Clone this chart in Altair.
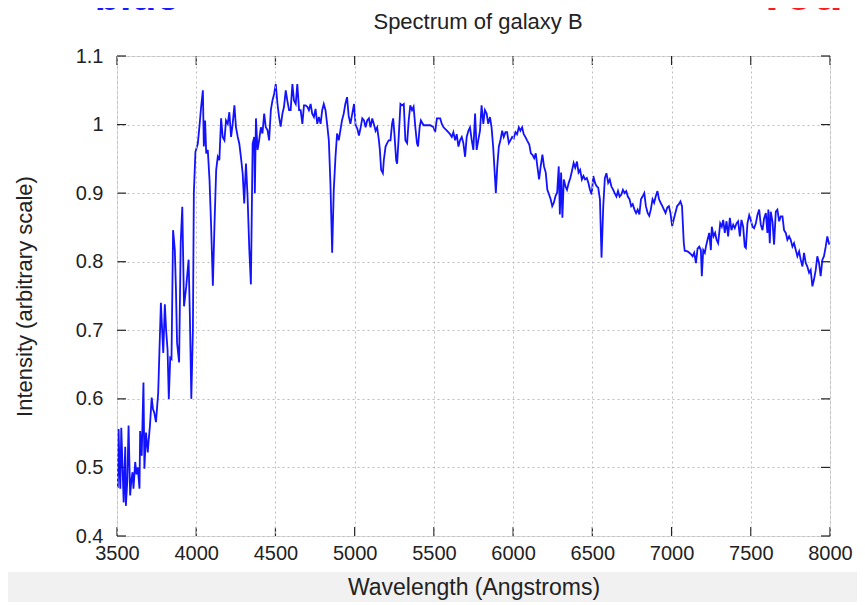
import altair as alt
import pandas as pd

# Spectrum of galaxy B: wavelength (Angstroms) and intensity (arbitrary scale)
wavelength = [
    3505, 3510, 3516, 3521, 3527, 3535, 3542, 3552, 3556, 3565, 3573, 3583, 3590, 3598, 3604,
    3615, 3623, 3631, 3642, 3646, 3656, 3667, 3673, 3683, 3694, 3700, 3708, 3719, 3727, 3735,
    3746, 3760, 3777, 3785, 3792, 3802, 3810, 3819, 3827, 3836, 3844, 3854, 3865, 3872, 3879,
    3892, 3902, 3912, 3923, 3937, 3952, 3960, 3969, 3979, 3985, 3995, 4010, 4021, 4031, 4042,
    4048, 4056, 4063, 4073, 4084, 4094, 4105, 4115, 4126, 4136, 4146, 4157, 4167, 4178, 4188,
    4199, 4209, 4220, 4230, 4241, 4251, 4262, 4272, 4282, 4293, 4303, 4308, 4314, 4324, 4335,
    4345, 4356, 4366, 4370, 4377, 4387, 4397, 4408, 4418, 4429, 4439, 4450, 4460, 4471, 4481,
    4492, 4502, 4513, 4523, 4533, 4544, 4554, 4565, 4575, 4586, 4596, 4607, 4617, 4628, 4638,
    4649, 4659, 4670, 4680, 4690, 4701, 4711, 4722, 4732, 4743, 4753, 4764, 4774, 4785, 4795,
    4805, 4816, 4826, 4837, 4847, 4858, 4868, 4879, 4889, 4900, 4910, 4920, 4931, 4941, 4952,
    4962, 4973, 4985, 4996, 5006, 5017, 5027, 5038, 5048, 5059, 5069, 5079, 5090, 5100, 5111,
    5121, 5132, 5142, 5153, 5159, 5167, 5178, 5184, 5195, 5205, 5215, 5226, 5236, 5243, 5251,
    5262, 5268, 5278, 5289, 5299, 5310, 5320, 5331, 5341, 5351, 5362, 5372, 5383, 5393, 5400,
    5410, 5418, 5435, 5456, 5477, 5498, 5508, 5519, 5540, 5550, 5561, 5582, 5602, 5613, 5623,
    5634, 5644, 5655, 5665, 5676, 5686, 5697, 5707, 5718, 5728, 5739, 5749, 5760, 5770, 5780,
    5791, 5801, 5812, 5822, 5833, 5843, 5854, 5864, 5874, 5885, 5891, 5900, 5910, 5920, 5931,
    5941, 5952, 5962, 5973, 5983, 5994, 6004, 6015, 6025, 6036, 6046, 6057, 6067, 6077, 6088,
    6102, 6112, 6122, 6133, 6143, 6153, 6164, 6174, 6185, 6195, 6206, 6216, 6227, 6237, 6247,
    6257, 6268, 6278, 6288, 6295, 6303, 6311, 6320, 6330, 6340, 6351, 6361, 6371, 6382, 6392,
    6403, 6413, 6423, 6434, 6444, 6454, 6465, 6475, 6485, 6496, 6506, 6517, 6527, 6537, 6548,
    6558, 6569, 6579, 6589, 6600, 6610, 6620, 6631, 6641, 6652, 6662, 6672, 6683, 6693, 6704,
    6714, 6724, 6735, 6745, 6755, 6766, 6776, 6786, 6797, 6807, 6817, 6828, 6838, 6849, 6859,
    6869, 6880, 6890, 6900, 6911, 6921, 6931, 6942, 6952, 6962, 6973, 6983, 6993, 7004, 7014,
    7024, 7035, 7046, 7056, 7066, 7077, 7083, 7101, 7112, 7122, 7133, 7143, 7154, 7164, 7175,
    7185, 7191, 7200, 7210, 7217, 7227, 7238, 7248, 7254, 7265, 7275, 7284, 7294, 7301, 7307,
    7317, 7326, 7336, 7347, 7357, 7368, 7378, 7389, 7399, 7410, 7420, 7431, 7441, 7452, 7462,
    7469, 7479, 7490, 7500, 7511, 7521, 7532, 7542, 7553, 7563, 7574, 7584, 7595, 7605, 7611,
    7620, 7626, 7637, 7647, 7658, 7668, 7679, 7689, 7700, 7710, 7721, 7731, 7742, 7752, 7763,
    7773, 7784, 7794, 7805, 7815, 7826, 7836, 7847, 7857, 7868, 7878, 7889, 7899, 7910, 7920,
    7931, 7941, 7952, 7962, 7973, 7983, 7995,
]
intensity = [
    0.470, 0.556, 0.500, 0.469, 0.558, 0.500, 0.449, 0.530, 0.444, 0.480, 0.561, 0.459, 0.480, 0.493, 0.469,
    0.508, 0.490, 0.500, 0.469, 0.553, 0.517, 0.624, 0.498, 0.551, 0.522, 0.540, 0.561, 0.602, 0.585, 0.580,
    0.566, 0.609, 0.740, 0.700, 0.667, 0.738, 0.700, 0.672, 0.600, 0.660, 0.658, 0.846, 0.817, 0.760, 0.682,
    0.653, 0.827, 0.880, 0.735, 0.764, 0.803, 0.720, 0.600, 0.700, 0.900, 0.960, 0.972, 0.999, 1.026, 1.050,
    0.968, 1.006, 0.958, 0.963, 0.919, 0.852, 0.765, 0.852, 0.934, 0.953, 0.948, 1.009, 0.982, 0.977, 1.006,
    1.001, 1.018, 0.982, 1.001, 1.028, 0.996, 0.982, 0.972, 0.953, 0.929, 0.885, 0.914, 0.943, 0.895, 0.818,
    0.767, 0.972, 0.982, 0.900, 1.009, 0.963, 0.977, 0.996, 0.987, 1.016, 0.996, 0.992, 0.977, 1.021, 1.035,
    1.045, 1.059, 1.030, 1.011, 0.997, 1.016, 1.026, 1.050, 1.035, 1.021, 1.021, 1.059, 1.035, 1.030, 1.059,
    1.021, 1.021, 1.001, 1.028, 1.028, 1.026, 1.021, 1.030, 1.016, 1.011, 1.023, 1.001, 1.011, 1.001, 1.021,
    1.030, 1.021, 1.001, 0.977, 0.914, 0.813, 0.904, 0.953, 0.987, 0.977, 0.992, 1.006, 1.016, 1.030, 1.040,
    1.013, 1.001, 1.016, 1.030, 0.999, 0.994, 0.984, 0.996, 1.009, 1.006, 0.996, 1.006, 1.009, 0.996, 1.009,
    1.001, 0.991, 0.996, 0.977, 0.963, 0.934, 0.929, 0.948, 0.968, 0.973, 0.977, 0.977, 1.001, 1.009, 0.986,
    0.948, 0.943, 0.982, 1.030, 1.028, 1.030, 0.977, 0.973, 1.006, 1.028, 1.021, 1.026, 0.996, 0.973, 0.968,
    0.996, 1.006, 0.999, 0.999, 0.999, 0.996, 0.989, 1.009, 1.009, 1.001, 0.996, 0.991, 0.986, 0.982, 0.989,
    0.977, 0.986, 0.968, 0.977, 0.982, 0.973, 0.953, 0.982, 0.991, 0.996, 0.977, 0.963, 1.016, 0.963, 0.977,
    0.991, 1.028, 1.001, 1.021, 1.016, 1.001, 1.011, 0.996, 0.968, 0.925, 0.900, 0.939, 0.968, 0.977, 0.991,
    0.982, 0.989, 0.989, 0.973, 0.977, 0.982, 0.980, 0.989, 0.986, 0.996, 0.991, 0.996, 0.986, 0.982, 0.977,
    0.971, 0.958, 0.956, 0.951, 0.958, 0.939, 0.920, 0.939, 0.956, 0.939, 0.930, 0.905, 0.898, 0.891, 0.881,
    0.886, 0.896, 0.901, 0.939, 0.869, 0.930, 0.864, 0.920, 0.910, 0.905, 0.915, 0.922, 0.932, 0.944, 0.937,
    0.946, 0.930, 0.934, 0.920, 0.925, 0.920, 0.922, 0.915, 0.905, 0.898, 0.925, 0.915, 0.910, 0.908, 0.891,
    0.806, 0.881, 0.922, 0.929, 0.915, 0.920, 0.910, 0.905, 0.900, 0.895, 0.903, 0.895, 0.898, 0.905, 0.900,
    0.903, 0.895, 0.891, 0.881, 0.884, 0.876, 0.871, 0.876, 0.869, 0.891, 0.895, 0.900, 0.881, 0.871, 0.867,
    0.876, 0.891, 0.886, 0.895, 0.903, 0.891, 0.886, 0.881, 0.876, 0.871, 0.879, 0.881, 0.871, 0.852, 0.862,
    0.871, 0.881, 0.884, 0.888, 0.881, 0.828, 0.816, 0.815, 0.813, 0.811, 0.808, 0.813, 0.798, 0.819, 0.822,
    0.817, 0.779, 0.817, 0.813, 0.822, 0.832, 0.842, 0.817, 0.851, 0.837, 0.842, 0.832, 0.827, 0.842, 0.856,
    0.851, 0.861, 0.842, 0.859, 0.837, 0.864, 0.846, 0.854, 0.849, 0.856, 0.859, 0.837, 0.861, 0.851, 0.822,
    0.820, 0.856, 0.868, 0.861, 0.851, 0.849, 0.856, 0.868, 0.876, 0.854, 0.846, 0.863, 0.871, 0.842, 0.876,
    0.827, 0.873, 0.859, 0.825, 0.873, 0.876, 0.859, 0.866, 0.866, 0.846, 0.842, 0.832, 0.837, 0.832, 0.822,
    0.827, 0.817, 0.808, 0.815, 0.803, 0.793, 0.813, 0.798, 0.793, 0.784, 0.788, 0.764, 0.774, 0.788, 0.808,
    0.798, 0.779, 0.803, 0.808, 0.822, 0.837, 0.825,
]

x_ticks = [3500, 4000, 4500, 5000, 5500, 6000, 6500, 7000, 7500, 8000]
y_ticks = [0.4, 0.5, 0.6, 0.7, 0.8, 0.9, 1.0, 1.1]

chart_title = "Spectrum of galaxy B"
x_title = "Wavelength (Angstroms)"
y_title = "Intensity (arbitrary scale)"
corner_words = ["blue", "red"]

W, H = 713, 480
FONT = "Liberation Sans"
TXT = "#222222"

spec = pd.DataFrame({"wavelength": wavelength, "intensity": intensity})
xt = pd.DataFrame({"wavelength": x_ticks})
yt = pd.DataFrame({"intensity": y_ticks})

xscale = alt.Scale(domain=[3500, 8000], nice=False, zero=False)
yscale = alt.Scale(domain=[0.4, 1.1], nice=False, zero=False)

band = alt.Chart(pd.DataFrame({"k": [0]})).mark_rect(color="#f1f1f1").encode(
    x=alt.value(-120), x2=alt.value(W + 40), y=alt.value(H + 36), y2=alt.value(H + 80)
)

line = alt.Chart(spec).mark_line(color="#1212ff", strokeWidth=1.8, clip=True).encode(
    x=alt.X("wavelength:Q", scale=xscale,
            axis=alt.Axis(values=x_ticks, format="d", title=x_title, zindex=1,
                          grid=True, gridColor="#bdbdbd", gridDash=[2, 3], gridWidth=1,
                          ticks=False, domain=False, labelFont=FONT, labelFontSize=20,
                          labelColor=TXT, labelPadding=7, labelFlush=False,
                          titleFont=FONT, titleFontSize=23, titleFontWeight="normal",
                          titleColor=TXT, titlePadding=13)),
    y=alt.Y("intensity:Q", scale=yscale,
            axis=alt.Axis(values=y_ticks, labelExpr="format(datum.value, '~g')", title=y_title,
                          grid=True, gridColor="#bdbdbd", gridDash=[2, 3], gridWidth=1,
                          ticks=False, domain=False, labelFont=FONT, labelFontSize=20,
                          labelColor=TXT, labelPadding=14, labelFlush=False,
                          titleFont=FONT, titleFontSize=22, titleFontWeight="normal",
                          titleColor=TXT, titlePadding=39)),
)

tick_style = dict(color="#222222", strokeWidth=1.2)
xb = alt.Chart(xt).mark_rule(**tick_style).encode(
    x=alt.X("wavelength:Q"), y=alt.value(H), y2=alt.value(H - 9))
xtop = alt.Chart(xt).mark_rule(**tick_style).encode(
    x=alt.X("wavelength:Q"), y=alt.value(0), y2=alt.value(9))
yl = alt.Chart(yt).mark_rule(**tick_style).encode(
    y=alt.Y("intensity:Q"), x=alt.value(0), x2=alt.value(9))
yr = alt.Chart(yt).mark_rule(**tick_style).encode(
    y=alt.Y("intensity:Q"), x=alt.value(W), x2=alt.value(W - 9))

title_mark = alt.Chart(pd.DataFrame({"t": [chart_title]})).mark_text(
    font=FONT, fontSize=22, color=TXT, baseline="alphabetic", align="center"
).encode(text="t:N", x=alt.value(361), y=alt.value(-27))

blue_word = alt.Chart(pd.DataFrame({"t": [corner_words[0]]})).mark_text(
    font=FONT, fontSize=41, fontWeight="bold", color="#1a1aff", baseline="alphabetic", align="center"
).encode(text="t:N", x=alt.value(20), y=alt.value(-46))
red_word = alt.Chart(pd.DataFrame({"t": [corner_words[1]]})).mark_text(
    font=FONT, fontSize=50, fontWeight="bold", color="#ff1a1a", baseline="alphabetic", align="center"
).encode(text="t:N", x=alt.value(687), y=alt.value(-46))

chart = alt.layer(band, line, xb, xtop, yl, yr, title_mark, blue_word, red_word).properties(
    width=W, height=H,
    autosize=alt.AutoSizeParams(type="none"),
    padding={"left": 109, "top": 48, "right": 27, "bottom": 66},
).configure_view(stroke="#1a1a1a", strokeWidth=1.6).configure(background="white")

chart.save("out.html", embed_options={"renderer": "svg", "actions": False})
